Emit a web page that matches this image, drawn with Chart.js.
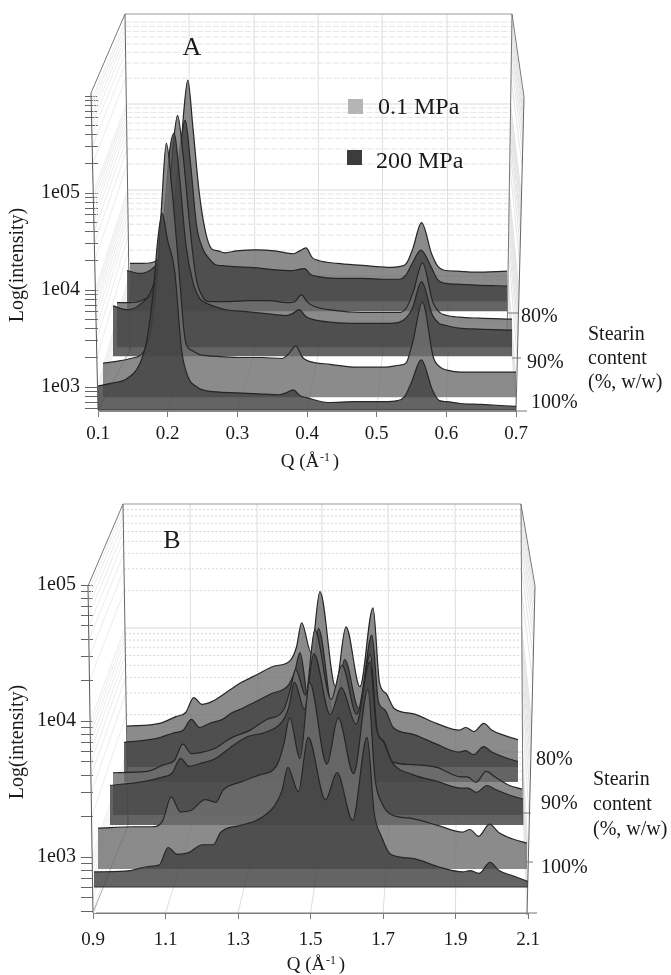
<!DOCTYPE html>
<html>
<head>
<meta charset="utf-8">
<title>Stearin content waterfall</title>
<script src="https://cdn.jsdelivr.net/npm/chart.js@4/dist/chart.umd.min.js"></script>
<style>
    body { margin: 0; background: #fff; }
    canvas { position: absolute; left: 0; }
</style>
</head>
<body>
<canvas id="panelA" width="671" height="480" style="top:0"></canvas>
<canvas id="panelB" width="671" height="495" style="top:480px"></canvas>
<script>
// Panel A: Q grid and log10(intensity) of each ridge
const qA = [0.10,0.12,0.14,0.16,0.17,0.18,0.185,0.192,0.20,0.21,0.22,0.23,0.24,0.25,0.27,0.30,0.33,0.36,0.37,0.38,0.39,0.40,0.43,0.47,0.51,0.53,0.54,0.55,0.564,0.58,0.59,0.60,0.62,0.65,0.70];
const a100High = [3.01,3.04,3.08,3.24,3.48,4.03,4.46,4.79,4.51,4.20,3.38,3.09,3.01,2.97,2.95,2.94,2.93,2.92,2.94,2.97,2.91,2.89,2.84,2.85,2.85,2.86,2.90,3.05,3.28,2.97,2.86,2.85,2.83,2.82,2.80];
const a100Low = [3.11,3.13,3.16,3.24,3.48,4.15,4.72,5.38,4.92,4.10,3.33,3.24,3.20,3.19,3.18,3.17,3.17,3.16,3.21,3.29,3.17,3.13,3.10,3.07,3.07,3.09,3.11,3.33,3.74,3.17,3.07,3.04,3.02,3.02,3.02];
const a90High = [3.28,3.24,3.29,3.48,3.79,4.46,4.87,5.06,4.61,3.89,3.53,3.36,3.31,3.28,3.24,3.22,3.20,3.18,3.20,3.24,3.17,3.14,3.11,3.10,3.10,3.11,3.15,3.25,3.53,3.19,3.10,3.08,3.05,3.04,3.03];
const a90Low = [3.22,3.22,3.25,3.38,3.69,4.41,4.82,5.15,4.77,4.05,3.48,3.28,3.23,3.23,3.23,3.24,3.24,3.22,3.23,3.30,3.22,3.18,3.14,3.12,3.12,3.12,3.17,3.33,3.63,3.22,3.12,3.09,3.07,3.06,3.05];
const a80High = [3.18,3.15,3.20,3.38,3.69,4.20,4.51,4.73,4.30,3.64,3.40,3.30,3.24,3.23,3.22,3.21,3.19,3.18,3.19,3.20,3.14,3.12,3.10,3.10,3.09,3.09,3.13,3.25,3.39,3.22,3.09,3.05,3.04,3.03,3.02];
const a80Low = [3.15,3.15,3.17,3.38,3.64,4.20,4.67,5.04,4.56,3.89,3.48,3.30,3.28,3.26,3.28,3.29,3.28,3.25,3.28,3.31,3.21,3.18,3.15,3.13,3.11,3.12,3.15,3.30,3.57,3.25,3.12,3.08,3.07,3.06,3.07];

// Panel B
const qB = [0.90,1.00,1.05,1.08,1.105,1.13,1.16,1.20,1.23,1.25,1.30,1.35,1.40,1.42,1.436,1.465,1.492,1.54,1.572,1.615,1.655,1.675,1.695,1.72,1.78,1.85,1.92,1.94,1.965,1.995,2.02,2.06,2.10];
const b100High = [2.89,2.90,2.93,2.94,3.07,3.02,3.03,3.09,3.09,3.18,3.23,3.27,3.38,3.49,3.66,3.48,3.88,3.42,3.62,3.27,3.88,3.32,3.15,3.02,2.99,2.93,2.89,2.90,2.88,2.96,2.90,2.86,2.82];
const b100Low = [3.08,3.09,3.09,3.13,3.31,3.20,3.21,3.29,3.27,3.36,3.42,3.47,3.54,3.70,3.89,3.59,4.15,3.55,3.89,3.48,4.10,3.44,3.26,3.18,3.15,3.10,3.05,3.07,3.02,3.11,3.05,3.00,2.97];
const b90High = [3.07,3.10,3.13,3.16,3.27,3.21,3.23,3.26,3.31,3.35,3.43,3.46,3.54,3.65,3.83,3.63,4.04,3.59,3.79,3.52,3.98,3.48,3.39,3.24,3.15,3.10,3.05,3.05,3.02,3.07,3.04,3.00,2.97];
const b90Low = [3.09,3.10,3.15,3.18,3.30,3.23,3.24,3.27,3.32,3.35,3.40,3.48,3.55,3.70,3.85,3.66,4.14,3.63,3.88,3.52,3.96,3.40,3.32,3.17,3.15,3.13,3.06,3.06,3.02,3.10,3.06,3.00,2.97];
const b80High = [3.07,3.10,3.14,3.16,3.24,3.18,3.21,3.24,3.29,3.31,3.37,3.43,3.49,3.59,3.73,3.33,3.91,3.25,3.68,3.32,3.86,3.37,3.31,3.18,3.13,3.06,3.00,3.01,2.98,3.04,3.00,2.96,2.93];
const b80Low = [3.08,3.10,3.15,3.18,3.29,3.24,3.26,3.32,3.37,3.40,3.46,3.52,3.56,3.66,3.84,3.62,4.07,3.37,3.81,3.37,3.95,3.40,3.32,3.21,3.17,3.10,3.05,3.07,3.04,3.10,3.05,3.01,2.98];

// Axis ticks
const decadesA = [3, 4, 5, 6];
const decadesB = [3, 4, 5];
const labelledDecades = [3, 4, 5];
const minorSteps = [0.301, 0.477, 0.602, 0.699, 0.778, 0.845, 0.903, 0.954];
const contentLabels = ['80%', '90%', '100%'];

const HIGH_FILL = 'rgba(66,66,66,0.82)';
const LOW_FILL = 'rgba(110,110,110,0.8)';
const SERIF = '"Liberation Serif", serif';

const panelA = {
    id: 'panelA', top: 0, height: 480, letter: 'A',
    q: qA, series: [a100High, a100Low, a90High, a90Low, a80High, a80Low],
    decades: decadesA,
    plot: { left: 98, right: 516, top: 60, bottom: 411 },
    qMin: 0.1, qMax: 0.7, qStep: 0.1, xPad: 6, yTick: 13,
    y1e3: 387, decadePx: 97, baseLog: 2.76,
    // front to back: ridge left/right pixel ends and lift above the front ridge
    ridges: [[98,516,0],[103,516,13],[113,512,54],[117,512,63],[127,507,99],[130,507,109]],
    wall: {
        backTop: [125,14], backBottom: [130,350], frontTop: [91,93], frontBottom: [98,410],
        rightBackTop: [512,14], rightBackBottom: [507,340], rightFrontTop: [524,97], rightFrontBottom: [516,411],
        gridTop: 18, gridDecade: 86, frontGridTop: 96, frontDecade: 97,
        columns: [189,254,318,382,447], columnBottom: 350, dash: [6,2], color: '#e4e4e4'
    },
    rightTicks: [[507,518,313],[512,521,358],[516,527,411]],
    baseLine: [98,516,410],
    labels: [[521,317],[527,363],[531,403]],
    stearin: [588,335,24],
    yTitle: [18,265], xTitle: [310,462], letterAt: [192,48]
};

const panelB = {
    id: 'panelB', top: 480, height: 495, letter: 'B',
    q: qB, series: [b100High, b100Low, b90High, b90Low, b80High, b80Low],
    decades: decadesB,
    plot: { left: 93, right: 528, top: 585, bottom: 913 },
    qMin: 0.9, qMax: 2.1, qStep: 0.2, xPad: 10, yTick: 12,
    y1e3: 857, decadePx: 136, baseLog: 2.78,
    ridges: [[94,528,0],[98,527,18],[110,523,62],[113,522,72],[124,518,105],[127,518,120]],
    wall: {
        backTop: [123,504], backBottom: [128,825], frontTop: [88,586], frontBottom: [93,913],
        rightBackTop: [521,504], rightBackBottom: [523,825], rightFrontTop: [535,586], rightFrontBottom: [527,915],
        gridTop: 504, gridDecade: 124, frontGridTop: 586, frontDecade: 136,
        columns: [190,257,322,388,455], columnBottom: 830, dash: [2,2], color: '#d4d4d4'
    },
    rightTicks: [[523,531,813],[527,533,862],[96,537,913]],
    baseLine: [94,528,887],
    labels: [[536,760],[541,804],[541,868]],
    stearin: [593,780,25],
    yTitle: [18,742], xTitle: [316,965], letterAt: [172,541]
};

const logOf = (panel, y) => 3 + (panel.y1e3 - y) / panel.decadePx;

const lerpPoint = (a, b, t) => [a[0] + (b[0] - a[0]) * t, a[1] + (b[1] - a[1]) * t];

const line = (ctx, a, b, color, width = 1) => {
    ctx.strokeStyle = color;
    ctx.lineWidth = width;
    ctx.beginPath();
    ctx.moveTo(a[0], a[1]);
    ctx.lineTo(b[0], b[1]);
    ctx.stroke();
};

// Wall levels follow a log grid, the same on back, left and right walls
const gridLevels = () => {
    const levels = [];
    for (let d = 0; d < 4; d++) {
        levels.push({ decade: d, step: 0, major: true });
        minorSteps.forEach(step => levels.push({ decade: d, step, major: false }));
    }
    return levels;
};

const drawWalls = (ctx, panel, xScale) => {
    const w = panel.wall;
    const backSpan = w.backBottom[1] - w.backTop[1];
    const rightSpan = w.rightBackBottom[1] - w.rightBackTop[1];
    gridLevels().forEach(level => {
        // minor lines sit above their decade line
        const backY = w.gridTop + w.gridDecade * (level.decade + 1) - level.step * w.gridDecade;
        const frontY = w.frontGridTop + w.frontDecade * (level.decade + 1) - level.step * w.frontDecade;
        if (backY > w.backBottom[1] || backY < w.backTop[1]) return;
        const t = (backY - w.backTop[1]) / backSpan;
        const back = lerpPoint(w.backTop, w.backBottom, t);
        const right = lerpPoint(w.rightBackTop, w.rightBackBottom, (backY - w.rightBackTop[1]) / rightSpan);
        ctx.setLineDash(level.major ? [] : w.dash);
        line(ctx, back, right, level.major ? '#d8d8d8' : w.color);
        ctx.setLineDash([]);
        const fs = (frontY - w.frontTop[1]) / (w.frontBottom[1] - w.frontTop[1]);
        if (fs < 0 || fs > 1) return;
        line(ctx, lerpPoint(w.frontTop, w.frontBottom, fs), back, '#ececec');
        line(ctx, right, lerpPoint(w.rightFrontTop, w.rightFrontBottom, fs), '#e4e4e4');
    });
    w.columns.forEach((x, i) => {
        line(ctx, [x, w.backTop[1]], [x + 1, w.columnBottom], '#dedede');
        const tickValue = panel.qMin + panel.qStep * (i + 1);
        line(ctx, [x + 1, w.columnBottom], [xScale.getPixelForValue(tickValue), panel.plot.bottom], '#dedede');
    });
    line(ctx, w.backTop, w.rightBackTop, '#999999');
    line(ctx, w.frontTop, w.backTop, '#777777');
    line(ctx, w.backTop, w.backBottom, '#666666');
    line(ctx, w.frontTop, w.frontBottom, '#555555');
    line(ctx, w.frontBottom, w.backBottom, '#aaaaaa');
    line(ctx, w.rightBackTop, w.rightFrontTop, '#777777');
    line(ctx, w.rightBackTop, w.rightBackBottom, '#777777');
    line(ctx, w.rightFrontTop, w.rightFrontBottom, '#666666');
};

const putText = (ctx, text, x, y, size) => {
    ctx.font = `${size}px ${SERIF}`;
    ctx.fillText(text, x, y);
};

const drawNotes = (ctx, panel) => {
    ctx.fillStyle = '#1a1a1a';
    ctx.textBaseline = 'middle';
    ctx.textAlign = 'center';
    putText(ctx, panel.letter, panel.letterAt[0], panel.letterAt[1], 26);

    const [qx, qy] = panel.xTitle;
    putText(ctx, 'Q (Å', qx - 10, qy, 19);
    putText(ctx, '-1', qx + 15, qy - 4, 12);
    putText(ctx, ')', qx + 26, qy, 19);

    ctx.save();
    ctx.translate(panel.yTitle[0], panel.yTitle[1]);
    ctx.rotate(-Math.PI / 2);
    putText(ctx, 'Log(intensity)', 0, 0, 20);
    ctx.restore();

    ctx.textAlign = 'left';
    contentLabels.forEach((label, i) => putText(ctx, label, panel.labels[i][0], panel.labels[i][1], 20));
    const [sx, sy, gap] = panel.stearin;
    ['Stearin', 'content', '(%, w/w)'].forEach((t, i) => putText(ctx, t, sx, sy + gap * i, 20));
    panel.rightTicks.forEach(([x0, x1, y]) => line(ctx, [x0, y], [x1, y], '#777777'));
    line(ctx, [panel.baseLine[0], panel.baseLine[2]], [panel.baseLine[1], panel.baseLine[2]], '#333333', 1.2);

    if (panel.letter === 'A') {
        ctx.fillStyle = '#b5b5b5';
        ctx.fillRect(348, 99, 15, 15);
        ctx.fillStyle = '#3c3c3c';
        ctx.fillRect(347, 150, 15, 15);
        ctx.fillStyle = '#1a1a1a';
        putText(ctx, '0.1 MPa', 378, 108, 24);
        putText(ctx, '200 MPa', 376, 162, 24);
    }
};

const panelArt = {
    id: 'panelArt',
    beforeDatasetsDraw(chart, args, opts) {
        const ctx = chart.ctx;
        ctx.save();
        ctx.translate(0, -opts.panel.top);
        const xScale = {
            getPixelForValue: v => chart.scales.x.getPixelForValue(v)
        };
        drawWalls(ctx, opts.panel, xScale);
        ctx.restore();
    },
    afterDatasetsDraw(chart, args, opts) {
        const ctx = chart.ctx;
        ctx.save();
        ctx.translate(0, -opts.panel.top);
        drawNotes(ctx, opts.panel);
        ctx.restore();
    }
};

const buildChart = (panel) => {
    const { plot } = panel;
    const logMin = logOf(panel, plot.bottom);
    const logMax = logOf(panel, plot.top);
    const yTicks = [];
    panel.decades.forEach(d => {
        yTicks.push(d);
        minorSteps.forEach(step => {
            if (d + step <= panel.decades[panel.decades.length - 1]) yTicks.push(d + step);
            if (d === panel.decades[0] && d - 1 + step >= logMin) yTicks.push(d - 1 + step);
        });
    });

    const scales = {
        x: {
            type: 'linear', min: panel.qMin, max: panel.qMax,
            grid: { drawOnChartArea: false, tickLength: 6, color: '#777777' },
            border: { color: '#888888' },
            ticks: {
                stepSize: panel.qStep, padding: panel.xPad, maxRotation: 0, color: '#1a1a1a',
                font: { family: SERIF, size: 19 },
                callback: v => v.toFixed(1)
            },
            afterFit: s => { s.height = panel.top + panel.height - plot.bottom; }
        },
        y: {
            type: 'linear', min: logMin, max: logMax,
            grid: { drawOnChartArea: false, tickLength: panel.yTick, color: '#666666' },
            border: { display: false },
            afterBuildTicks: s => { s.ticks = yTicks.map(value => ({ value })); },
            ticks: {
                autoSkip: false, padding: 5, color: '#1a1a1a',
                font: { family: SERIF, size: 20 },
                callback: v => labelledDecades.includes(v) ? `1e0${v}` : ''
            },
            afterFit: s => { s.width = plot.left; }
        }
    };

    const datasets = panel.series.map((values, i) => {
        const [left, right, lift] = panel.ridges[i];
        const perPx = (panel.qMax - panel.qMin) / (right - left);
        scales[`x${i}`] = {
            type: 'linear', display: false,
            min: panel.qMin + (plot.left - left) * perPx,
            max: panel.qMin + (plot.right - left) * perPx
        };
        scales[`y${i}`] = {
            type: 'linear', display: false,
            min: logMin - lift / panel.decadePx,
            max: logMax - lift / panel.decadePx
        };
        return {
            label: `${contentLabels[2 - Math.floor(i / 2)]} ${i % 2 ? '0.1 MPa' : '200 MPa'}`,
            data: panel.q.map((q, k) => ({ x: q, y: values[k] })),
            xAxisID: `x${i}`,
            yAxisID: `y${i}`,
            borderColor: '#262626',
            borderWidth: 1.2,
            backgroundColor: i % 2 ? LOW_FILL : HIGH_FILL,
            fill: { value: panel.baseLog },
            pointRadius: 0,
            cubicInterpolationMode: 'monotone',
            clip: false
        };
    });

    return new Chart(document.getElementById(panel.id), {
        type: 'line',
        data: { datasets },
        plugins: [panelArt],
        options: {
            responsive: false,
            animation: false,
            layout: { padding: { left: 0, right: 671 - plot.right, top: plot.top - panel.top, bottom: 0 } },
            scales,
            plugins: {
                legend: { display: false },
                tooltip: { enabled: false },
                panelArt: { panel }
            }
        }
    });
};

buildChart(panelA);
buildChart(panelB);
</script>
</body>
</html>
